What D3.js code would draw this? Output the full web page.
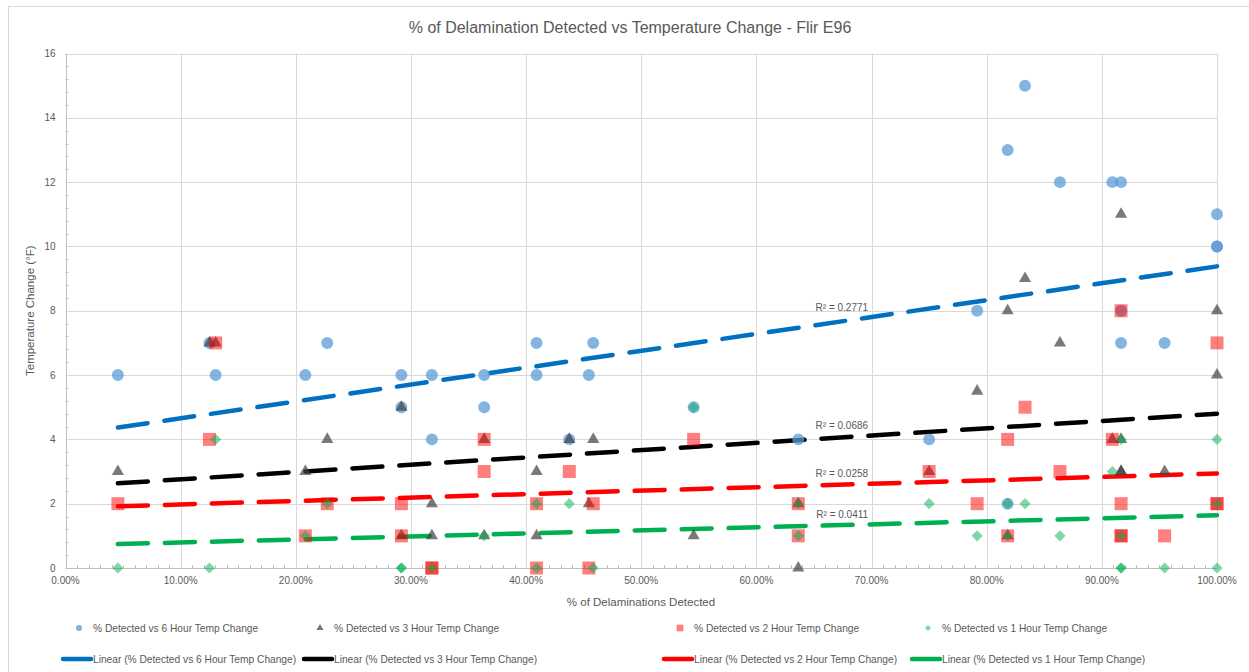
<!DOCTYPE html>
<html>
<head>
<meta charset="utf-8">
<script src="https://cdn.jsdelivr.net/npm/d3@7/dist/d3.min.js"></script>
<style>
  body { margin: 0; background: #fff; }
  text { font-family: "Liberation Sans", Arial, sans-serif; fill: #595959; }
</style>
</head>
<body>
<svg id="chart" width="1249" height="672"></svg>
<script>
// % detected (x, in percent) vs temperature change (y, °F)
const sixHour = [[4.55,6],[12.5,7],[13.04,6],[20.83,6],[22.73,7],[29.17,6],[29.17,5],[31.82,6],[31.82,4],
  [36.36,6],[36.36,5],[40.91,7],[40.91,6],[43.75,4],[45.45,6],[45.83,7],[54.55,5],[63.64,4],[75,4],
  [79.17,8],[81.82,13],[81.82,2],[83.33,15],[86.36,12],[90.91,12],[91.67,12],[91.67,8],[91.67,7],
  [95.45,7],[100,11],[100,10],[100,10]]
const threeHour = [[4.55,3],[12.5,7],[13.04,7],[20.83,3],[22.73,4],[29.17,5],[29.17,1],[31.82,2],[31.82,1],
  [36.36,4],[36.36,1],[40.91,3],[40.91,1],[43.75,4],[45.83,4],[45.45,2],[54.55,1],[63.64,2],[63.64,0],
  [75,3],[79.17,5.5],[81.82,8],[81.82,1],[83.33,9],[86.36,7],[90.91,4],[91.67,4],[91.67,11],[91.67,3],
  [91.67,3],[95.45,3],[100,8],[100,6]]
const twoHour = [[4.55,2],[12.5,4],[13.04,7],[20.83,1],[22.73,2],[29.17,2],[29.17,1],[31.82,0],[31.82,0],
  [36.36,4],[36.36,3],[40.91,2],[40.91,0],[43.75,3],[45.83,2],[45.45,0],[54.55,4],[63.64,2],[63.64,1],
  [75,3],[79.17,2],[81.82,4],[81.82,1],[83.33,5],[86.36,3],[90.91,4],[91.67,8],[91.67,2],[91.67,1],
  [91.67,1],[95.45,1],[100,7],[100,2],[100,2]]
const oneHour = [[4.55,0],[12.5,0],[13.04,4],[20.83,1],[22.73,2],[29.17,0],[29.17,0],[31.82,0],[36.36,1],
  [40.91,2],[40.91,0],[43.75,2],[45.83,0],[54.55,5],[63.64,2],[63.64,1],[75,2],[79.17,1],[81.82,2],
  [81.82,1],[83.33,2],[86.36,1],[90.91,3],[91.67,4],[91.67,1],[91.67,0],[91.67,0],[95.45,0],[100,4],
  [100,2],[100,0]]

// linear trendlines: [slope per %, intercept]
const trendCoef = [[0.0525,4.13],[0.0227,2.53],[0.0107,1.87],[0.0094,0.70]]
const rSquared = ["0.2771","0.0686","0.0258","0.0411"]

const seriesNames = ["% Detected vs 6 Hour Temp Change","% Detected vs 3 Hour Temp Change",
  "% Detected vs 2 Hour Temp Change","% Detected vs 1 Hour Temp Change"]
const xTicks = [0,10,20,30,40,50,60,70,80,90,100]
const yTicks = [0,2,4,6,8,10,12,14,16]

const title = "% of Delamination Detected vs Temperature Change - Flir E96"
const xTitle = "% of Delaminations Detected"
const yTitle = "Temperature Change (°F)"

const allData = [sixHour, threeHour, twoHour, oneHour]
const markerFill = ["#5B9BD5","#404040","#FF0000","#00B050"]
const markerAlpha = [0.75, 0.7, 0.5, 0.5]
const lineColor = ["#0070C0","#000000","#FF0000","#00B050"]
const symbols = [
  {type: d3.symbolCircle, size: 113, rot: 0},
  {type: d3.symbolTriangle, size: 64, rot: 0},
  {type: d3.symbolSquare, size: 169, rot: 0},
  {type: d3.symbolSquare, size: 62, rot: 45}
]
const legendSym = [
  {type: d3.symbolCircle, size: 30, rot: 0},
  {type: d3.symbolTriangle, size: 22, rot: 0},
  {type: d3.symbolSquare, size: 45, rot: 0},
  {type: d3.symbolSquare, size: 18, rot: 45}
]

const svg = d3.select("#chart")
const W = 1249, H = 672

// outer chart border
svg.append("rect").attr("x", 8.5).attr("y", 6.5).attr("width", W).attr("height", H)
  .attr("fill", "#fff").attr("stroke", "#d9d9d9")

const x = d3.scaleLinear().domain([0, 100]).range([65.5, 1217])
const y = d3.scaleLinear().domain([0, 16]).range([568, 53.5])

// gridlines
svg.append("g").selectAll("line").data(yTicks.filter(d => d > 0)).join("line")
  .attr("x1", x(0)).attr("x2", x(100))
  .attr("y1", d => Math.round(y(d)) + 0.5).attr("y2", d => Math.round(y(d)) + 0.5)
  .attr("stroke", "#d9d9d9")
svg.append("g").selectAll("line").data(xTicks.filter(d => d > 0)).join("line")
  .attr("y1", y(0)).attr("y2", y(16))
  .attr("x1", d => Math.round(x(d)) + 0.5).attr("x2", d => Math.round(x(d)) + 0.5)
  .attr("stroke", "#d9d9d9")

// axis lines + minor ticks
const ax = svg.append("g").attr("stroke", "#bfbfbf")
ax.append("line").attr("x1", Math.round(x(0)) + 0.5).attr("x2", Math.round(x(0)) + 0.5)
  .attr("y1", y(0)).attr("y2", y(16))
ax.append("line").attr("x1", x(0)).attr("x2", x(100))
  .attr("y1", Math.round(y(0)) + 0.5).attr("y2", Math.round(y(0)) + 0.5)
ax.selectAll(".ym").data(d3.range(0, 16, 0.4).filter(d => Math.abs(d / 2 - Math.round(d / 2)) > 0.01))
  .join("line").attr("class", "ym")
  .attr("x1", x(0)).attr("x2", x(0) + 3)
  .attr("y1", d => Math.round(y(d)) + 0.5).attr("y2", d => Math.round(y(d)) + 0.5)
ax.selectAll(".xm").data(d3.range(1, 100).filter(d => d % 10 !== 0))
  .join("line").attr("class", "xm")
  .attr("y1", y(0)).attr("y2", y(0) - 3)
  .attr("x1", d => Math.round(x(d)) + 0.5).attr("x2", d => Math.round(x(d)) + 0.5)

// tick labels
svg.append("g").selectAll("text").data(yTicks).join("text")
  .attr("x", x(0) - 10).attr("y", d => y(d)).attr("dy", "0.35em")
  .attr("text-anchor", "end").style("font-size", "10px")
  .text(d => d)
svg.append("g").selectAll("text").data(xTicks).join("text")
  .attr("x", d => x(d)).attr("y", y(0) + 16)
  .attr("text-anchor", "middle").style("font-size", "10px")
  .text(d => d3.format(".2f")(d) + "%")

// titles
svg.append("text").attr("x", 630).attr("y", 33).attr("text-anchor", "middle")
  .style("font-size", "16px").text(title)
svg.append("text").attr("x", 641).attr("y", 606).attr("text-anchor", "middle")
  .style("font-size", "11.5px").text(xTitle)
svg.append("text").attr("transform", `translate(34,${(y(0) + y(16)) / 2}) rotate(-90)`)
  .attr("text-anchor", "middle").style("font-size", "11.5px").text(yTitle)

// trendlines
const xExt = d3.extent(allData.flat(), d => d[0])
const trend = (i, v) => trendCoef[i][0] * v + trendCoef[i][1]
trendCoef.forEach((c, i) => {
  svg.append("line")
    .attr("x1", x(xExt[0])).attr("y1", y(trend(i, xExt[0])))
    .attr("x2", x(xExt[1])).attr("y2", y(trend(i, xExt[1])))
    .attr("stroke", lineColor[i]).attr("stroke-width", 4.5)
    .attr("stroke-linecap", "round").attr("stroke-dasharray", "30 17")
})

// markers
allData.forEach((data, i) => {
  const s = symbols[i]
  svg.append("g").selectAll("path").data(data).join("path")
    .attr("d", d3.symbol().type(s.type).size(s.size))
    .attr("transform", d => `translate(${x(d[0])},${y(d[1])}) rotate(${s.rot})`)
    .attr("fill", markerFill[i]).attr("fill-opacity", markerAlpha[i])
})

// R² labels
const labelAt = 69.7
svg.append("g").selectAll("text").data(rSquared).join("text")
  .attr("x", x(labelAt)).attr("y", (d, i) => y(trend(i, labelAt)) - 10)
  .attr("dy", "0.35em").attr("text-anchor", "end").style("font-size", "10px")
  .text(d => "R² = " + d)

// legend
const legX = [79, 320, 680, 928]
const leg = svg.append("g")
seriesNames.forEach((name, i) => {
  const s = legendSym[i]
  leg.append("path").attr("d", d3.symbol().type(s.type).size(s.size)())
    .attr("transform", `translate(${legX[i]},628) rotate(${s.rot})`)
    .attr("fill", markerFill[i]).attr("fill-opacity", markerAlpha[i])
  leg.append("text").attr("x", legX[i] + 14).attr("y", 628).attr("dy", "0.35em")
    .style("font-size", "10.2px").text(name)
  leg.append("line").attr("x1", legX[i] - 16).attr("x2", legX[i] + 12)
    .attr("y1", 659).attr("y2", 659)
    .attr("stroke", lineColor[i]).attr("stroke-width", 4.5).attr("stroke-linecap", "round")
  leg.append("text").attr("x", legX[i] + 14).attr("y", 659).attr("dy", "0.35em")
    .style("font-size", "10.2px").text("Linear (" + name + ")")
})
</script>
</body>
</html>
